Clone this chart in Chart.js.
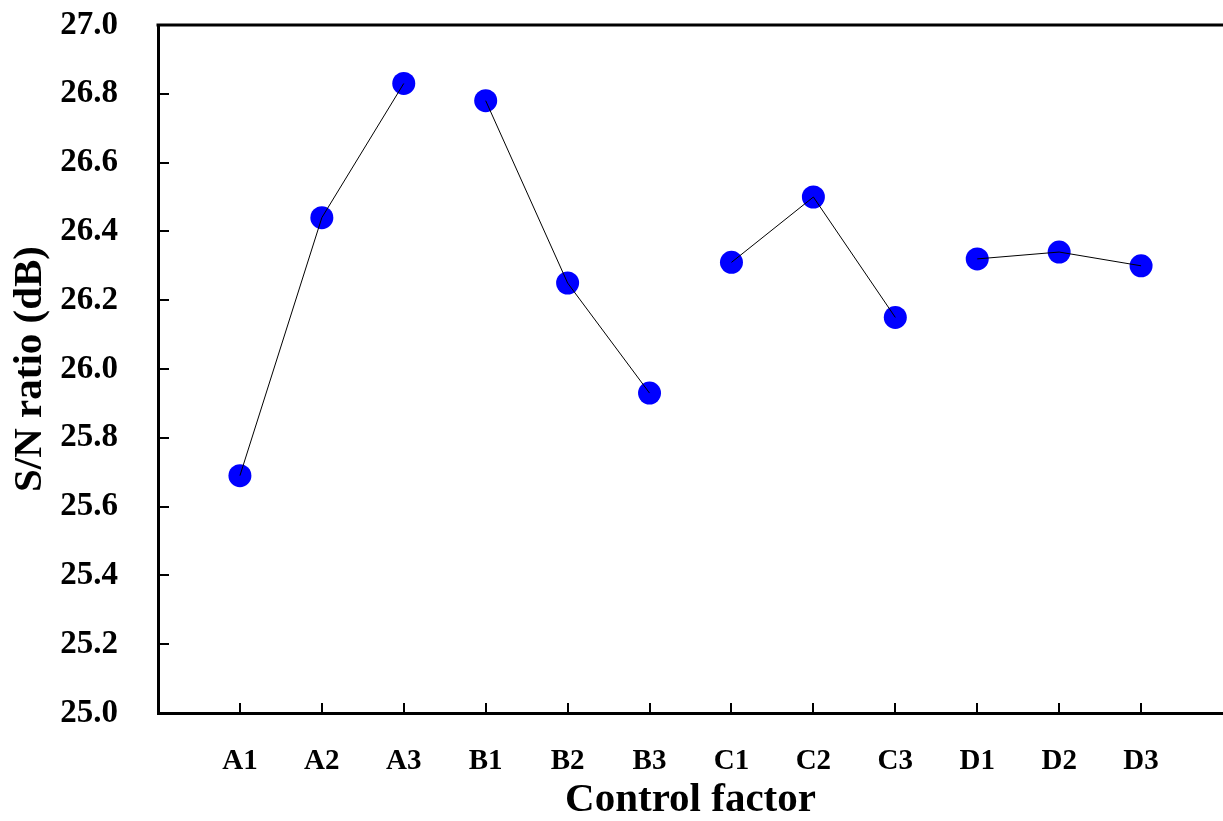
<!DOCTYPE html>
<html>
<head>
<meta charset="utf-8">
<script src="https://cdn.jsdelivr.net/npm/chart.js@4/dist/chart.umd.min.js"></script>
<style>
  html, body { margin: 0; padding: 0; background: #fff; overflow: hidden; }
  #wrap { width: 1223px; height: 821px; }
  canvas { display: block; }
</style>
</head>
<body>
<div id="wrap"><canvas id="snChart" width="1223" height="821"></canvas></div>
<script>
// data
const factors = ['A1', 'A2', 'A3', 'B1', 'B2', 'B3', 'C1', 'C2', 'C3', 'D1', 'D2', 'D3'];
const snRatio = [25.69, 26.44, 26.83, 26.78, 26.25, 25.93, 26.31, 26.50, 26.15, 26.32, 26.34, 26.30];
const groups = ['A', 'B', 'C', 'D'];
const yTicks = [25.0, 25.2, 25.4, 25.6, 25.8, 26.0, 26.2, 26.4, 26.6, 26.8, 27.0];

const serif = '"Liberation Serif", "Times New Roman", serif';
const points = factors.map((f, i) => ({ x: i + 1, y: snRatio[i] }));

// one line per factor, no points (drawn above the markers like the original)
const lineSets = groups.map(g => ({
    label: g,
    data: points.filter((_, i) => factors[i][0] === g),
    borderColor: '#000',
    borderWidth: 1,
    pointRadius: 0,
    showLine: true,
    fill: false,
    order: 1
}));

const markerSet = {
    label: 'S/N',
    data: points,
    showLine: false,
    pointRadius: 11.5,
    pointBackgroundColor: '#0000FF',
    pointBorderWidth: 0,
    order: 2
};

// inward tick marks + top frame line
const frame = {
    id: 'frame',
    afterDraw(chart) {
        const { ctx, chartArea: a, scales: { x, y } } = chart;
        ctx.save();
        ctx.strokeStyle = '#000';
        ctx.lineWidth = 2;
        ctx.beginPath();
        yTicks.forEach(v => {
            const py = Math.round(y.getPixelForValue(v));
            ctx.moveTo(a.left, py);
            ctx.lineTo(a.left + 11, py);
        });
        factors.forEach((_, i) => {
            const px = Math.round(x.getPixelForValue(i + 1));
            ctx.moveTo(px, a.bottom);
            ctx.lineTo(px, a.bottom - 10);
        });
        ctx.stroke();
        ctx.lineWidth = 3;
        ctx.beginPath();
        ctx.moveTo(a.left - 1.5, a.top);
        ctx.lineTo(a.right, a.top);
        ctx.stroke();
        ctx.restore();
    }
};

new Chart(document.getElementById('snChart'), {
    type: 'scatter',
    data: { datasets: [...lineSets, markerSet] },
    options: {
        responsive: false,
        animation: false,
        layout: { autoPadding: false, padding: { top: 25, right: 0, left: 0, bottom: 0 } },
        plugins: { legend: { display: false }, tooltip: { enabled: false } },
        scales: {
            x: {
                type: 'linear',
                min: 0, max: 13,
                afterFit: s => { s.height = 108; s.paddingLeft = 0; s.paddingRight = 0; },
                afterBuildTicks: s => { s.ticks = factors.map((_, i) => ({ value: i + 1 })); },
                grid: { display: false, drawTicks: false },
                border: { display: true, color: '#000', width: 3 },
                ticks: {
                    padding: 31,
                    color: '#000',
                    font: { family: serif, size: 29, weight: 'bold' },
                    callback: v => factors[v - 1] || ''
                },
                title: {
                    display: true,
                    text: 'Control factor',
                    color: '#000',
                    padding: { top: 0, bottom: 0 },
                    font: { family: serif, size: 41, weight: 'bold', lineHeight: 1.0 }
                }
            },
            y: {
                min: 25, max: 27,
                afterFit: s => { s.width = 158; s.paddingTop = 0; s.paddingBottom = 0; },
                afterBuildTicks: s => { s.ticks = yTicks.map(v => ({ value: v })); },
                grid: { display: false, drawTicks: false },
                border: { display: true, color: '#000', width: 3 },
                ticks: {
                    padding: 40,
                    color: '#000',
                    font: { family: serif, size: 33, weight: 'bold' },
                    callback: v => v.toFixed(1)
                },
                title: {
                    display: true,
                    text: 'S/N ratio (dB)',
                    color: '#000',
                    padding: { top: 6, bottom: 0 },
                    font: { family: serif, size: 41, weight: 'bold' }
                }
            }
        }
    },
    plugins: [frame]
});
</script>
</body>
</html>
